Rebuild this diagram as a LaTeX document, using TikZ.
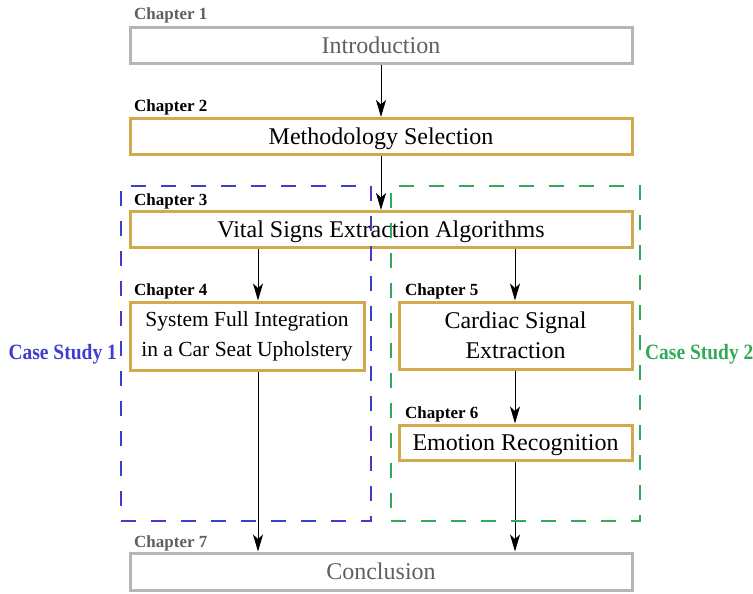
\documentclass[tikz,border=0pt]{standalone}
\usepackage{fontspec}
\setmainfont{Liberation Serif}
\usetikzlibrary{arrows.meta}
\definecolor{gold}{RGB}{208,170,76}
\definecolor{greybox}{RGB}{182,182,178}
\definecolor{greytext}{RGB}{95,95,95}
\definecolor{csblue}{RGB}{62,62,205}
\definecolor{csgreen}{RGB}{50,170,90}
% slightly tall bold lettering for the case study captions
\newcommand{\tallcaption}[1]{\scalebox{1}[1.12]{#1}}

\begin{document}
\begin{tikzpicture}[x=1pt,y=-1pt,
  chapbox/.style={draw=gold, line width=3pt, inner sep=0pt, align=center,
    font=\fontsize{24}{30}\selectfont},
  oneline/.style={text height=16pt, text depth=0pt},
  endbox/.style={chapbox, draw=greybox, text=greytext},
  chaplabel/.style={anchor=base west, inner sep=0pt,
    font=\fontsize{17}{19}\selectfont\bfseries},
  caselabel/.style={inner sep=0pt, font=\fontsize{19.5}{21}\selectfont\bfseries},
  flow/.style={-{Stealth[length=17pt,width=10pt,inset=4.5pt]}, line width=1pt},
  casebox/.style={dash pattern=on 15pt off 15pt, line width=1.8pt,
    inner sep=0pt},
]
\useasboundingbox (0,0) rectangle (753,594);

% chapter boxes
\node[endbox, oneline, minimum width=502pt, minimum height=36pt] (intro) at (381,45.5) {Introduction};
\node[chapbox, oneline, minimum width=502pt, minimum height=36pt] (method) at (381,136.5) {Methodology Selection};
\node[chapbox, oneline, minimum width=502pt, minimum height=36pt] (vital) at (381,229.5) {Vital Signs Extraction Algorithms};
\node[chapbox, minimum width=234pt, minimum height=68pt,
  font=\fontsize{21.5}{30}\selectfont] (sys) at (247,336)
  {System Full Integration\\in a Car Seat Upholstery};
\node[chapbox, minimum width=233pt, minimum height=67pt] (card) at (515.5,335.5)
  {Cardiac Signal\\Extraction};
\node[chapbox, oneline, minimum width=233pt, minimum height=35pt] (emo) at (515.5,442.5) {Emotion Recognition};
\node[endbox, oneline, minimum width=502pt, minimum height=37pt] (concl) at (381,571.5) {Conclusion};

% chapter labels
\node[chaplabel, text=greytext] (l1) at (134,20) {Chapter 1};
\node[chaplabel] (l2) at (134,112) {Chapter 2};
\node[chaplabel] (l3) at (134,205) {Chapter 3};
\node[chaplabel] (l4) at (134,295) {Chapter 4};
\node[chaplabel] (l5) at (405,295) {Chapter 5};
\node[chaplabel] (l6) at (405,418) {Chapter 6};
\node[chaplabel, text=greytext] (l7) at (134,547) {Chapter 7};

% connectors
\coordinate (lx) at (258,0);
\coordinate (rx) at (515,0);
\draw[flow] (intro.south) -- (method.north);
\draw[flow] (method.south) -- (vital.north);
\draw[flow] (vital.south -| lx) -- (sys.north -| lx);
\draw[flow] (vital.south -| rx) -- (card.north -| rx);
\draw[flow] (card.south -| rx) -- (emo.north -| rx);
\draw[flow] (sys.south -| lx) -- (concl.north -| lx);
\draw[flow] (emo.south -| rx) -- (concl.north -| rx);

% case study frames
\node[casebox, draw=csblue, minimum width=250pt, minimum height=335pt] (cs1) at (246,353.5) {};
\node[casebox, draw=csgreen, minimum width=249pt, minimum height=335pt] (cs2) at (515.5,353.5) {};
\node[caselabel, text=csblue, anchor=east] (c1) at ([xshift=-3pt,yshift=-1pt]cs1.west) {\tallcaption{Case Study 1}};
\node[caselabel, text=csgreen, anchor=west] (c2) at ([xshift=4pt,yshift=-1pt]cs2.east) {\tallcaption{Case Study 2}};
\end{tikzpicture}
\end{document}
